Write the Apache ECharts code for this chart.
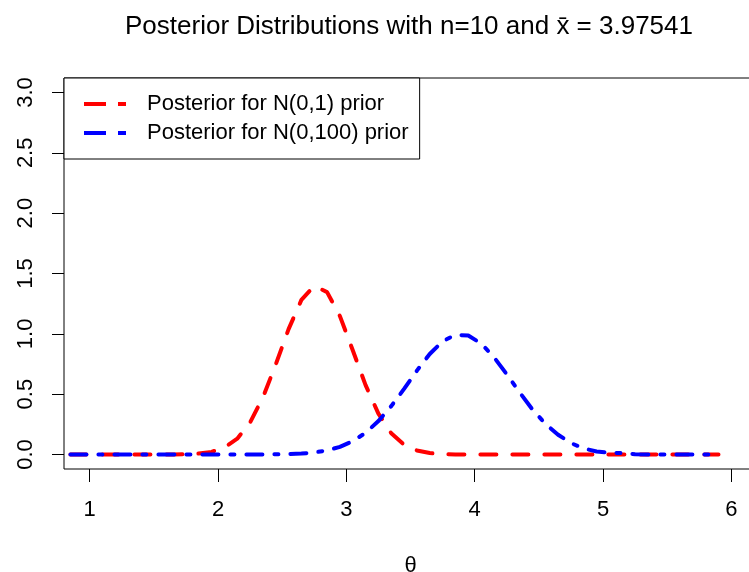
<!DOCTYPE html>
<html>
<head>
<meta charset="utf-8">
<script src="https://cdn.jsdelivr.net/npm/echarts@6/dist/echarts.min.js"></script>
<style>
  html, body { margin: 0; padding: 0; background: #fff; }
  #chart { width: 749px; height: 572px; }
</style>
</head>
<body>
<div id="chart"></div>
<script>
// theta grid the densities were read at
const theta = [
  0.85, 0.95, 1.05, 1.15, 1.25, 1.35, 1.45, 1.55, 1.65, 1.75,
  1.85, 1.95, 2.05, 2.15, 2.25, 2.35, 2.45, 2.55, 2.65, 2.75,
  2.85, 2.95, 3.05, 3.15, 3.25, 3.35, 3.45, 3.55, 3.65, 3.75,
  3.85, 3.95, 4.05, 4.15, 4.25, 4.35, 4.45, 4.55, 4.65, 4.75,
  4.85, 4.95, 5.05, 5.15, 5.25, 5.35, 5.45, 5.55, 5.65, 5.75,
  5.85, 5.9
];
// posterior for N(0,1) prior
const postN01 = [
  0, 0, 0, 0, 0, 0, 0, 0, 0, 0.002,
  0.008, 0.022, 0.058, 0.131, 0.265, 0.473, 0.746, 1.039, 1.281, 1.397,
  1.346, 1.147, 0.864, 0.575, 0.339, 0.176, 0.081, 0.033, 0.012, 0.004,
  0.001, 0, 0, 0, 0, 0, 0, 0, 0, 0,
  0, 0, 0, 0, 0, 0, 0, 0, 0, 0,
  0, 0
];
// posterior for N(0,100) prior
const postN0100 = [
  0, 0, 0, 0, 0, 0, 0, 0, 0, 0,
  0, 0, 0, 0, 0, 0, 0.002, 0.004, 0.008, 0.017,
  0.034, 0.063, 0.110, 0.180, 0.277, 0.401, 0.544, 0.695, 0.833, 0.938,
  0.992, 0.986, 0.920, 0.807, 0.665, 0.515, 0.374, 0.255, 0.164, 0.095,
  0.050, 0.025, 0.015, 0.012, 0.003, 0.001, 0, 0, 0, 0,
  0, 0
];
const xTicks = [1, 2, 3, 4, 5, 6];
const yTicks = [0, 0.5, 1, 1.5, 2, 2.5, 3];
const legendNames = ["Posterior for N(0,1) prior", "Posterior for N(0,100) prior"];

const font = "Liberation Sans, Arial, sans-serif";
const pairs = (ys) => theta.map((t, i) => [t, ys[i]]);
const legendIcon = "path://M0,0H22V4H0Z M34,0H42V4H34Z";

const myChart = echarts.init(document.getElementById("chart"));
myChart.setOption({
  animation: false,
  textStyle: { fontFamily: font, color: "#000" },
  title: {
    text: "Posterior Distributions with n=10 and x\u0304 = 3.97541",
    left: 404,
    textAlign: "center",
    top: 9,
    textStyle: { fontFamily: font, fontSize: 26, fontWeight: "normal", color: "#000" },
  },
  grid: {
    left: 64,
    top: 78,
    width: 693,
    height: 391,
    outerBoundsMode: "none",
    containLabel: false,
    show: true,
    borderColor: "#000",
    borderWidth: 1,
    backgroundColor: "transparent",
  },
  legend: {
    orient: "vertical",
    left: 64,
    top: 78,
    padding: [15, 11, 15, 20],
    itemWidth: 42,
    itemHeight: 4,
    itemGap: 7,
    icon: legendIcon,
    selectedMode: false,
    backgroundColor: "#fff",
    borderColor: "#000",
    borderWidth: 1,
    textStyle: { fontFamily: font, fontSize: 22, color: "#000", padding: [0, 0, 0, 16] },
    data: legendNames,
  },
  xAxis: {
    type: "value",
    min: 0.8,
    max: 6.2,
    name: "θ",
    nameLocation: "middle",
    nameGap: 86,
    nameTextStyle: { fontFamily: font, fontSize: 22, color: "#000" },
    axisLine: { show: false, onZero: false },
    splitLine: { show: false },
    axisTick: {
      show: true,
      length: 13,
      customValues: xTicks,
      lineStyle: { color: "#000", width: 1 },
    },
    axisLabel: {
      customValues: xTicks,
      margin: 30,
      fontSize: 22,
      color: "#000",
      fontFamily: font,
      formatter: (v) => String(v),
    },
  },
  yAxis: {
    type: "value",
    min: -0.12,
    max: 3.12,
    axisLine: { show: false, onZero: false },
    splitLine: { show: false },
    axisTick: {
      show: true,
      length: 12,
      customValues: yTicks,
      lineStyle: { color: "#000", width: 1 },
    },
    axisLabel: {
      customValues: yTicks,
      rotate: 90,
      margin: 27,
      fontSize: 22,
      color: "#000",
      fontFamily: font,
      formatter: (v) => v.toFixed(1),
    },
  },
  series: [
    {
      name: legendNames[0],
      type: "line",
      data: pairs(postN01),
      showSymbol: false,
      symbol: "none",
      color: "#ff0000",
      lineStyle: { color: "#ff0000", width: 4, type: [16, 16], cap: "round" },
      silent: true,
    },
    {
      name: legendNames[1],
      type: "line",
      data: pairs(postN0100),
      showSymbol: false,
      symbol: "none",
      color: "#0000ff",
      lineStyle: { color: "#0000ff", width: 4, type: [16, 12, 4, 12], cap: "round" },
      silent: true,
    },
  ],
});
</script>
</body>
</html>
